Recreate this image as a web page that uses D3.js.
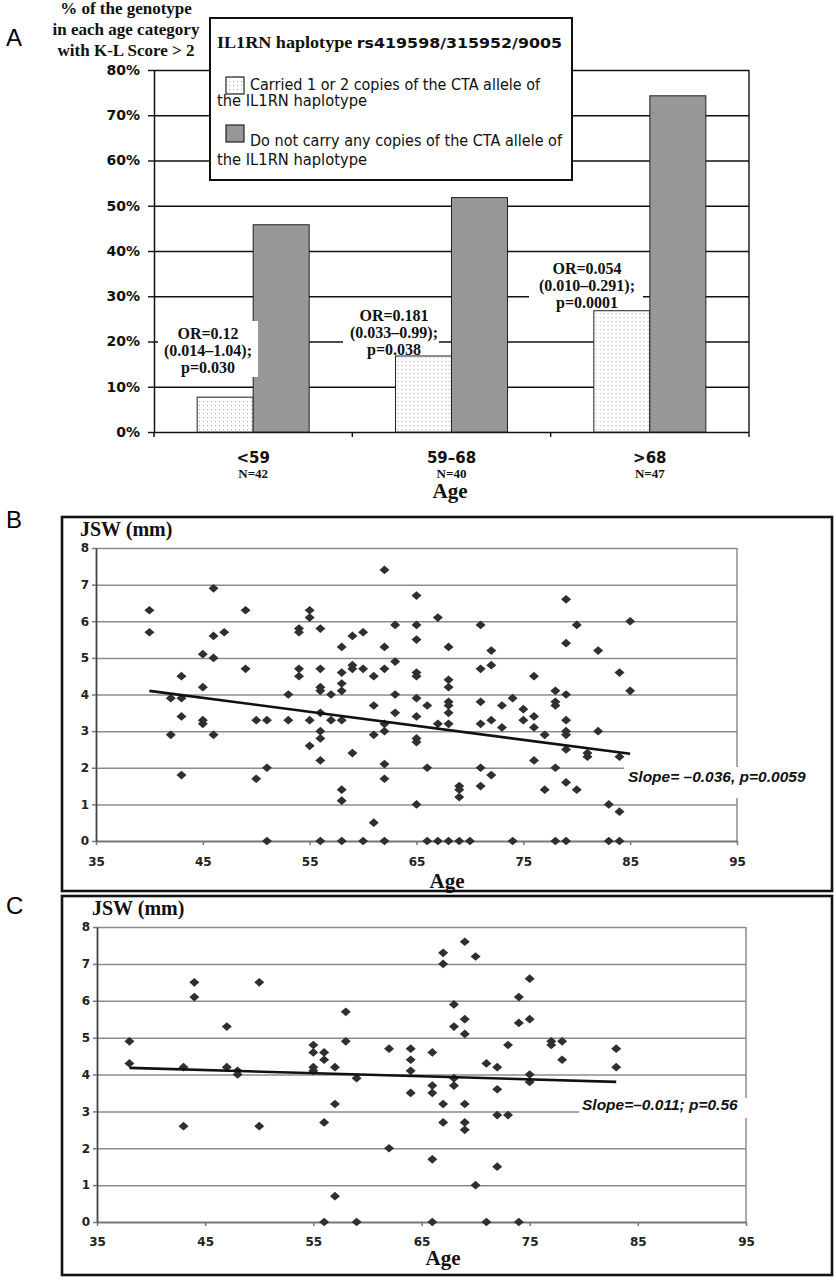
<!DOCTYPE html>
<html><head><meta charset="utf-8">
<script src="https://cdn.jsdelivr.net/npm/d3@7"></script>
<style>body{margin:0;background:#fff}svg{display:block}</style>
</head><body>
<svg id="fig" width="836" height="1280"></svg>
<script>
// ---------- DATA ----------
const ageGroups = ["<59", "59–68", ">68"];
const groupN = ["N=42", "N=40", "N=47"];
const carriedPct = [7.7, 16.8, 26.8];
const notCarriedPct = [45.8, 51.8, 74.3];
const pctTicks = [0, 10, 20, 30, 40, 50, 60, 70, 80];
const orNotes = [
  ["OR=0.12", "(0.014–1.04);", "p=0.030"],
  ["OR=0.181", "(0.033–0.99);", "p=0.038"],
  ["OR=0.054", "(0.010–0.291);", "p=0.0001"]
];
const yTitleA = ["% of the genotype", "in each age category", "with K-L Score > 2"];
const legendTitle = ["IL1RN haplotype ", "rs419598/315952/9005"];
const legendItems = [
  ["Carried 1 or 2 copies of the CTA allele of", "the IL1RN haplotype"],
  ["Do not carry any copies of the CTA allele of", "the IL1RN haplotype"]
];

const jswTicks = [0, 1, 2, 3, 4, 5, 6, 7, 8];
const ageTicks = [35, 45, 55, 65, 75, 85, 95];

const bAge = [
  40,40, 42,42, 43,43,43,43, 45,45,45,45, 46,46,46,46, 47, 49,49, 50,50, 51,51,51,
  53,53, 54,54,54,54, 55,55,55,55, 56,56,56,56,56,56,56,56,56, 57,57,
  58,58,58,58,58,58,58,58, 59,59,59,59, 60,60,60, 61,61,61,61,
  62,62,62,62,62,62,62,62, 63,63,63,63, 65,65,65,65,65,65,65,65,65,65,
  66,66,66, 67,67,67, 68,68,68,68,68,68,68,68, 69,69,69,69, 70,
  71,71,71,71,71,71, 72,72,72,72, 73,73, 74,74, 75,75, 76,76,76,76, 77,77,
  78,78,78,78,78, 79,79,79,79,79,79,79,79,79, 80,80, 81,81, 82,82, 83,83,
  84,84,84,84, 85,85
];
const bJsw = [
  6.3,5.7, 3.9,2.9, 4.5,3.9,3.4,1.8, 5.1,4.2,3.3,3.2, 6.9,5.6,5.0,2.9, 5.7, 6.3,4.7, 3.3,1.7, 3.3,2.0,0,
  4.0,3.3, 5.8,5.7,4.7,4.5, 6.3,6.1,3.3,2.6, 5.8,4.7,4.2,4.1,3.5,3.0,2.8,2.2,0, 4.0,3.3,
  5.3,4.6,4.3,4.1,3.3,1.4,1.1,0, 5.6,4.8,4.7,2.4, 5.7,4.7,0, 4.5,3.7,2.9,0.5,
  7.4,5.3,4.7,3.2,3.0,2.1,1.7,0, 5.9,4.9,4.0,3.5, 6.7,5.9,5.5,4.6,4.5,3.9,3.4,2.8,2.7,1.0,
  3.7,2.0,0, 6.1,3.2,0, 5.3,4.4,4.2,3.8,3.7,3.5,3.2,0, 1.5,1.4,1.2,0, 0,
  5.9,4.7,3.8,3.2,2.0,1.5, 5.2,4.8,3.3,1.8, 3.7,3.1, 3.9,0, 3.6,3.3, 4.5,3.4,3.1,2.2, 2.9,1.4,
  4.1,3.8,3.7,2.0,0, 6.6,5.4,4.0,3.3,3.0,2.9,2.5,1.6,0, 5.9,1.4, 2.4,2.3, 5.2,3.0, 1.0,0,
  4.6,2.3,0.8,0, 6.0,4.1
];
const bFitAge = [40, 85];
const bFitJsw = [4.10, 2.38];
const bSlopeText = "Slope= –0.036, p=0.0059";

const cAge = [
  38,38, 43,43, 44,44, 47,47, 48,48, 50,50, 55,55,55,55, 56,56,56,56, 57,57,57, 58,58,
  59,59, 62,62, 64,64,64,64, 66,66,66,66,66, 67,67,67,67, 68,68,68,68,
  69,69,69,69,69,69, 70,70, 71,71, 72,72,72,72, 73,73, 74,74,74, 75,75,75,75,
  77,77, 78,78, 83,83
];
const cJsw = [
  4.9,4.3, 4.2,2.6, 6.5,6.1, 5.3,4.2, 4.1,4.0, 6.5,2.6, 4.8,4.6,4.2,4.1, 4.6,4.4,2.7,0, 4.2,3.2,0.7, 5.7,4.9,
  3.9,0, 4.7,2.0, 4.7,4.4,4.1,3.5, 4.6,3.7,3.5,1.7,0, 7.3,7.0,3.2,2.7, 5.9,5.3,3.9,3.7,
  7.6,5.5,5.1,3.2,2.7,2.5, 7.2,1.0, 4.3,0, 4.2,3.6,2.9,1.5, 4.8,2.9, 6.1,5.4,0, 6.6,5.5,4.0,3.8,
  4.9,4.8, 4.9,4.4, 4.7,4.2
];
const cFitAge = [38, 83];
const cFitJsw = [4.18, 3.80];
const cSlopeText = "Slope=–0.011; p=0.56";

// ---------- STYLE ----------
const SERIF = "'Liberation Serif','Times New Roman',serif";
const WIDE = "'DejaVu Sans',Verdana,sans-serif";
const ARIAL = "'Liberation Sans',Arial,sans-serif";
const INK = "#111";

const svg = d3.select("#fig");
svg.append("rect").attr("width", 836).attr("height", 1280).attr("fill", "#fff");
const defs = svg.append("defs");
const pat = defs.append("pattern").attr("id", "dots").attr("patternUnits", "userSpaceOnUse")
  .attr("width", 4).attr("height", 4);
pat.append("rect").attr("width", 4).attr("height", 4).attr("fill", "#fff");
pat.append("rect").attr("x", 1).attr("y", 1).attr("width", 1).attr("height", 1).attr("fill", "#a8a8a8");

// ---------- PANEL A ----------
const A = {left: 154, right: 749, top: 70, bottom: 432};
const xA = d3.scaleBand().domain(ageGroups).range([A.left, A.right]);
const barW = 56;
const xSub = d3.scaleBand().domain(["carried", "notCarried"])
  .range([xA.bandwidth() / 2 - barW, xA.bandwidth() / 2 + barW]);
const yA = d3.scaleLinear().domain([0, 80]).range([A.bottom, A.top]);
const gA = svg.append("g");

svg.append("text").attr("x", 6).attr("y", 46).attr("font-family", ARIAL).attr("font-size", 24).text("A");

// gridlines
gA.append("g").attr("transform", `translate(${A.left},0)`)
  .call(d3.axisLeft(yA).tickValues(pctTicks).tickSize(-(A.right - A.left)).tickFormat(""))
  .call(g => { g.select(".domain").remove(); g.selectAll("line").attr("stroke", INK).attr("stroke-width", 1.4); });
gA.append("line").attr("x1", A.right).attr("x2", A.right).attr("y1", A.top).attr("y2", A.bottom + 5)
  .attr("stroke", INK).attr("stroke-width", 1.4);

// bars
const grp = gA.selectAll(".grp").data(ageGroups).join("g").attr("class", "grp")
  .attr("transform", d => `translate(${xA(d)},0)`);
grp.append("rect").attr("x", xSub("carried")).attr("width", xSub.bandwidth())
  .attr("y", (d, i) => yA(carriedPct[i])).attr("height", (d, i) => yA(0) - yA(carriedPct[i]))
  .attr("fill", "url(#dots)").attr("stroke", "#222").attr("stroke-width", 1);
grp.append("rect").attr("x", xSub("notCarried")).attr("width", xSub.bandwidth())
  .attr("y", (d, i) => yA(notCarriedPct[i])).attr("height", (d, i) => yA(0) - yA(notCarriedPct[i]))
  .attr("fill", "#979797").attr("stroke", "#222").attr("stroke-width", 1);

// y axis
gA.append("g").attr("transform", `translate(${A.left},0)`)
  .call(d3.axisLeft(yA).tickValues(pctTicks).tickSize(6).tickSizeOuter(0).tickPadding(8).tickFormat(d => d + "%"))
  .call(g => {
    g.select(".domain").attr("stroke", INK).attr("stroke-width", 1.5);
    g.selectAll("line").attr("stroke", INK).attr("stroke-width", 1.4);
    g.selectAll("text").attr("font-family", WIDE).attr("font-weight", "bold").attr("font-size", 14).attr("fill", INK);
  });
gA.append("line").attr("x1", A.left).attr("x2", A.left).attr("y1", A.bottom).attr("y2", A.bottom + 5)
  .attr("stroke", INK).attr("stroke-width", 1.5);
// category boundary ticks
gA.selectAll(".bt").data(ageGroups.slice(1)).join("line")
  .attr("x1", d => xA(d)).attr("x2", d => xA(d)).attr("y1", A.bottom).attr("y2", A.bottom + 5)
  .attr("stroke", INK).attr("stroke-width", 1.4);

// x labels
gA.selectAll(".xl").data(ageGroups).join("text")
  .attr("x", d => xA(d) + xA.bandwidth() / 2).attr("y", 463).attr("text-anchor", "middle")
  .attr("font-family", WIDE).attr("font-weight", "bold").attr("font-size", 15).attr("fill", INK).text(d => d);
gA.selectAll(".nl").data(groupN).join("text")
  .attr("x", (d, i) => xA(ageGroups[i]) + xA.bandwidth() / 2).attr("y", 478).attr("text-anchor", "middle")
  .attr("font-family", SERIF).attr("font-weight", "bold").attr("font-size", 13).attr("fill", INK).text(d => d);
gA.append("text").attr("x", 450).attr("y", 498).attr("text-anchor", "middle")
  .attr("font-family", SERIF).attr("font-weight", "bold").attr("font-size", 21).attr("fill", INK).text("Age");

// y title
gA.selectAll(".yt").data(yTitleA).join("text")
  .attr("x", 126).attr("y", (d, i) => 14 + i * 21).attr("text-anchor", "middle")
  .attr("font-family", SERIF).attr("font-weight", "bold").attr("font-size", 17).attr("fill", INK).text(d => d);

// legend
const lg = gA.append("g");
lg.append("rect").attr("x", 210).attr("y", 18).attr("width", 362).attr("height", 162)
  .attr("fill", "#fff").attr("stroke", INK).attr("stroke-width", 2);
const lt = lg.append("text").attr("x", 217).attr("y", 48).attr("fill", INK).attr("font-weight", "bold")
  .attr("textLength", 345).attr("lengthAdjust", "spacingAndGlyphs");
lt.append("tspan").attr("font-family", SERIF).attr("font-size", 16).text(legendTitle[0]);
lt.append("tspan").attr("font-family", WIDE).attr("font-size", 14).text(legendTitle[1]);
const swY = [77, 125];
const swFill = ["url(#dots)", "#979797"];
const itemBase = [[90, 106], [146, 165]];
const itemLen = [[290, 150], [312, 150]];
legendItems.forEach((lines, i) => {
  lg.append("rect").attr("x", 226).attr("y", swY[i]).attr("width", 18).attr("height", 17)
    .attr("fill", swFill[i]).attr("stroke", "#222").attr("stroke-width", 1.2);
  lg.append("text").attr("x", 250).attr("y", itemBase[i][0]).attr("font-family", WIDE).attr("font-size", 15)
    .attr("textLength", itemLen[i][0]).attr("lengthAdjust", "spacingAndGlyphs")
    .attr("fill", INK).text(lines[0]);
  lg.append("text").attr("x", 217).attr("y", itemBase[i][1]).attr("font-family", WIDE).attr("font-size", 15)
    .attr("textLength", itemLen[i][1]).attr("lengthAdjust", "spacingAndGlyphs")
    .attr("fill", INK).text(lines[1]);
});

// OR annotations
const noteBox = [[158, 321, 100, 56], [343, 303, 96, 49], [529, 258, 114, 52]];
const noteX = [208, 394, 587];
const noteY = [339, 321, 274];
orNotes.forEach((lines, i) => {
  const b = noteBox[i];
  gA.append("rect").attr("x", b[0]).attr("y", b[1]).attr("width", b[2]).attr("height", b[3]).attr("fill", "#fff");
  lines.forEach((t, j) => {
    gA.append("text").attr("x", noteX[i]).attr("y", noteY[i] + j * 17).attr("text-anchor", "middle")
      .attr("font-family", SERIF).attr("font-weight", "bold").attr("font-size", 16).attr("fill", INK).text(t);
  });
});

// ---------- SCATTER PANELS ----------
const diamond = {
  draw(ctx, size) {
    const h = Math.sqrt(size) / 2, w = h * 1.15;
    ctx.moveTo(0, -h); ctx.lineTo(w, 0); ctx.lineTo(0, h); ctx.lineTo(-w, 0); ctx.closePath();
  }
};

function scatter(o) {
  const g = svg.append("g");
  g.append("rect").attr("x", o.box[0]).attr("y", o.box[1]).attr("width", o.box[2]).attr("height", o.box[3])
    .attr("fill", "none").attr("stroke", INK).attr("stroke-width", 2.6);
  svg.append("text").attr("x", 6).attr("y", o.letterY).attr("font-family", ARIAL).attr("font-size", 24).text(o.letter);
  const x = d3.scaleLinear().domain([35, 95]).range(o.xr);
  const y = d3.scaleLinear().domain([0, 8]).range(o.yr);
  g.append("g").attr("transform", `translate(${o.xr[0]},0)`)
    .call(d3.axisLeft(y).tickValues(jswTicks.slice(1)).tickSize(-(o.xr[1] - o.xr[0])).tickFormat(""))
    .call(s => { s.select(".domain").remove(); s.selectAll("line").attr("stroke", "#8c8c8c").attr("stroke-width", 1.5); });
  g.append("line").attr("x1", o.xr[1]).attr("x2", o.xr[1]).attr("y1", y(8)).attr("y2", y(0))
    .attr("stroke", "#8c8c8c").attr("stroke-width", 1.5);
  g.append("g").attr("transform", `translate(0,${y(0)})`)
    .call(d3.axisBottom(x).tickValues(ageTicks).tickSize(4).tickSizeOuter(0).tickPadding(o.xPad).tickFormat(d3.format("d")))
    .call(s => {
      s.select(".domain").attr("stroke", "#777").attr("stroke-width", 1.8);
      s.selectAll("line").attr("stroke", "#777").attr("stroke-width", 1.5);
      s.selectAll("text").attr("font-family", WIDE).attr("font-weight", "bold").attr("font-size", 12).attr("fill", "#222");
    });
  g.append("g").attr("transform", `translate(${o.xr[0]},0)`)
    .call(d3.axisLeft(y).tickValues(jswTicks).tickSize(4).tickSizeOuter(0).tickPadding(3))
    .call(s => {
      s.select(".domain").attr("stroke", "#444").attr("stroke-width", 1.8);
      s.selectAll("line").attr("stroke", "#777").attr("stroke-width", 1.5);
      s.selectAll("text").attr("font-family", WIDE).attr("font-weight", "bold").attr("font-size", 12).attr("fill", "#222");
    });
  // slope label box
  g.append("rect").attr("x", o.noteBox[0]).attr("y", o.noteBox[1]).attr("width", o.noteBox[2]).attr("height", o.noteBox[3]).attr("fill", "#fff");
  // points
  const sym = d3.symbol(diamond, 76);
  g.selectAll("path.pt").data(o.ages).join("path").attr("class", "pt")
    .attr("transform", (d, i) => `translate(${x(d)},${y(o.jsw[i])})`)
    .attr("d", sym).attr("fill", "#2f2f2f");
  // fit line
  g.append("path").datum(o.fitAge)
    .attr("d", d3.line().x(d => x(d)).y((d, i) => y(o.fitJsw[i])))
    .attr("fill", "none").attr("stroke", INK).attr("stroke-width", 2.6);
  g.append("text").attr("x", o.noteX).attr("y", o.noteY).attr("font-family", ARIAL).attr("font-weight", "bold")
    .attr("font-style", "italic").attr("font-size", 15.5).attr("fill", INK).text(o.slope);
  g.append("text").attr("x", o.jswX).attr("y", o.jswY).attr("font-family", SERIF).attr("font-weight", "bold")
    .attr("font-size", 20).attr("fill", INK).text("JSW (mm)");
  g.append("text").attr("x", o.ageX).attr("y", o.ageY).attr("text-anchor", "middle").attr("font-family", SERIF)
    .attr("font-weight", "bold").attr("font-size", 21).attr("fill", INK).text("Age");
}

scatter({
  box: [62, 517, 770, 374], letter: "B", letterY: 528,
  xr: [96, 737], yr: [841, 548], xPad: 12,
  ages: bAge, jsw: bJsw, fitAge: bFitAge, fitJsw: bFitJsw,
  slope: bSlopeText, noteX: 628, noteY: 782, noteBox: [624, 767, 199, 31],
  jswX: 80, jswY: 536, ageX: 447, ageY: 888
});
scatter({
  box: [62, 896, 770, 379], letter: "C", letterY: 914,
  xr: [97, 746], yr: [1222, 927], xPad: 11.5,
  ages: cAge, jsw: cJsw, fitAge: cFitAge, fitJsw: cFitJsw,
  slope: cSlopeText, noteX: 582, noteY: 1110, noteBox: [579, 1098, 180, 20],
  jswX: 92, jswY: 915, ageX: 443, ageY: 1265
});
</script>
</body></html>
